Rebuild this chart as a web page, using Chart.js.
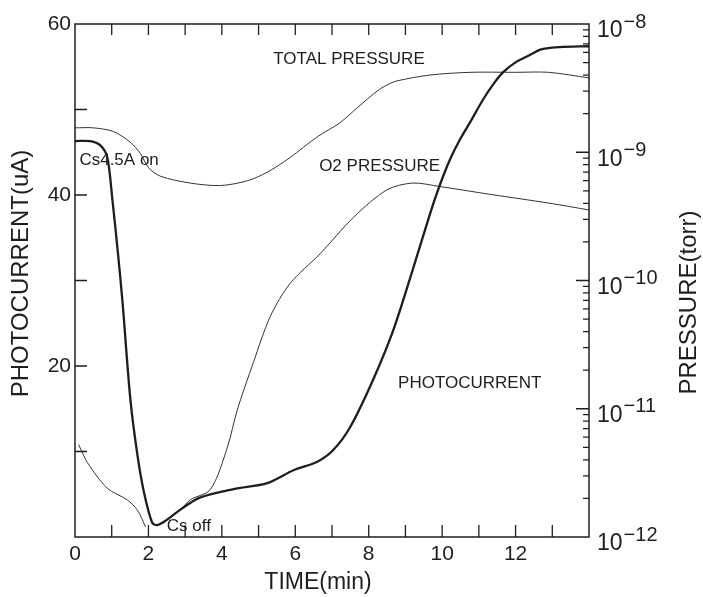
<!DOCTYPE html>
<html>
<head>
<meta charset="utf-8">
<script src="https://cdn.jsdelivr.net/npm/chart.js@4.4.1/dist/chart.umd.min.js"></script>
<style>
html,body{margin:0;padding:0;background:#fff;}
#wrap{width:703px;height:597px;position:relative;}
</style>
</head>
<body>
<div id="wrap"><canvas id="chart"></canvas></div>
<script>
// photocurrent (uA) - left axis
const photoTime = [0, 0.42, 0.69, 0.88, 1.02, 1.16, 1.29, 1.51, 1.7, 1.87, 2.1, 2.24, 2.5, 2.87, 3.4, 4.32, 5.24, 5.95, 6.6, 7.04, 7.5, 8.12, 8.67, 9.13, 9.67, 9.94, 10.22, 10.5, 10.76, 11.12, 11.4, 11.67, 12.03, 12.4, 12.67, 12.94, 13.2, 14];
const photoCurrent = [46.3, 46.3, 45.8, 44.4, 39.4, 33.6, 27.7, 16.0, 9.6, 5.4, 1.7, 1.4, 2.0, 3.2, 4.6, 5.6, 6.3, 7.8, 8.8, 10.2, 12.9, 18.4, 24.2, 30.3, 37.8, 41.2, 44.2, 46.6, 48.5, 51.2, 53.0, 54.4, 55.6, 56.4, 57.0, 57.2, 57.3, 57.4];

// total pressure (torr) - right log axis
const totalTime = [0, 0.5, 1.05, 1.5, 1.78, 2.0, 2.33, 3.14, 3.96, 4.7, 5.24, 5.86, 6.6, 7.22, 7.7, 8.23, 8.5, 8.77, 9.67, 10.76, 12.0, 12.9, 14];
const totalPressure = [1.55e-9, 1.55e-9, 1.45e-9, 1.2e-9, 9.8e-10, 7.6e-10, 6.5e-10, 5.75e-10, 5.5e-10, 6.0e-10, 7.0e-10, 9.1e-10, 1.32e-9, 1.7e-9, 2.24e-9, 3.0e-9, 3.35e-9, 3.6e-9, 4.0e-9, 4.2e-9, 4.2e-9, 4.2e-9, 3.8e-9];

// O2 pressure (torr) - right log axis, null where the trace breaks near "Cs off"
const o2Time = [0.1, 0.34, 0.88, 1.42, 1.7, 1.92, 2.4, 2.87, 3.14, 3.69, 4.15, 4.42, 4.86, 5.32, 5.86, 6.68, 7.58, 8.5, 9.2, 9.94, 11.3, 12.94, 14];
const o2Pressure = [5.25e-12, 3.8e-12, 2.4e-12, 1.95e-12, 1.62e-12, 1.2e-12, null, 1.62e-12, 1.95e-12, 2.35e-12, 5.0e-12, 9.8e-12, 2.3e-11, 5.25e-11, 9.5e-11, 1.62e-10, 3.1e-10, 5.1e-10, 5.75e-10, 5.4e-10, 4.7e-10, 4.0e-10, 3.55e-10];

const timeTicks = [0, 2, 4, 6, 8, 10, 12];
const currentTicks = [20, 40, 60];
const pressureExps = [-12, -11, -10, -9, -8];

const FONT = '"Liberation Sans", Arial, Helvetica, sans-serif';
const INK = '#1e1e1e';

function pts(xs, ys) {
    return xs.map((x, i) => ({x: x, y: ys[i]}));
}

// text notes placed in data units (time, uA)
const notes = [
    {text: "TOTAL PRESSURE", t: 5.4, v: 55.9},
    {text: "O2 PRESSURE", t: 6.65, v: 43.3},
    {text: "PHOTOCURRENT", t: 8.8, v: 18.0},
    {text: "Cs4.5A on", t: 0.12, v: 44.1},
    {text: "Cs off", t: 2.5, v: 1.2}
];

const decorations = {
    id: "decorations",
    afterDatasetsDraw(chart) {
        const {ctx, chartArea: a, scales} = chart;
        const x = scales.x, y = scales.y, p = scales.y2;
        ctx.save();

        // frame
        ctx.strokeStyle = INK;
        ctx.lineWidth = 1.5;
        ctx.strokeRect(a.left, a.top, a.right - a.left, a.bottom - a.top);

        // inward ticks
        ctx.lineWidth = 1.3;
        ctx.beginPath();
        for (let t = 1; t < 14; t++) {
            const px = x.getPixelForValue(t);
            ctx.moveTo(px, a.bottom); ctx.lineTo(px, a.bottom - 12);
            ctx.moveTo(px, a.top); ctx.lineTo(px, a.top + 11);
        }
        for (let v = 10; v < 60; v += 10) {
            const py = y.getPixelForValue(v);
            ctx.moveTo(a.left, py); ctx.lineTo(a.left + 12, py);
        }
        for (let e = -12; e < -8; e++) {
            for (let m = 1; m < 10; m++) {
                if (e === -12 && m === 1) continue;
                const py = p.getPixelForValue(m * Math.pow(10, e));
                ctx.moveTo(a.right, py); ctx.lineTo(a.right - (m === 1 ? 13 : 6), py);
            }
        }
        ctx.stroke();

        ctx.fillStyle = INK;

        // log labels 10^n on the right
        pressureExps.forEach(e => {
            const py = p.getPixelForValue(Math.pow(10, e));
            ctx.font = "23px " + FONT;
            ctx.textAlign = "left";
            ctx.textBaseline = "middle";
            const bx = a.right + 8;
            ctx.fillText("10", bx, py + 7);
            const w = ctx.measureText("10").width;
            ctx.font = "20px " + FONT;
            ctx.fillText("\u2212" + Math.abs(e), bx + w + 1, py - 2);
        });

        // notes
        ctx.font = "17px " + FONT;
        ctx.textAlign = "left";
        ctx.textBaseline = "middle";
        notes.forEach(n => {
            ctx.fillText(n.text, x.getPixelForValue(n.t), y.getPixelForValue(n.v));
        });

        // axis titles
        ctx.font = "23px " + FONT;
        ctx.textAlign = "center";
        ctx.fillText("TIME(min)", (a.left + a.right) / 2 - 14, a.bottom + 46);

        ctx.font = "24px " + FONT;
        ctx.save();
        ctx.translate(a.left - 54, (a.top + a.bottom) / 2 - 7);
        ctx.rotate(-Math.PI / 2);
        ctx.fillText("PHOTOCURRENT(uA)", 0, 0);
        ctx.restore();

        ctx.save();
        ctx.translate(a.right + 100, (a.top + a.bottom) / 2 + 22);
        ctx.rotate(-Math.PI / 2);
        ctx.fillText("PRESSURE(torr)", 0, 0);
        ctx.restore();

        ctx.restore();
    }
};

new Chart(document.getElementById("chart"), {

    type: "line",

    data: {
        datasets: [{
            label: "Photocurrent",
            data: pts(photoTime, photoCurrent),
            yAxisID: "y",
            borderColor: INK,
            borderWidth: 2.3,
            pointRadius: 0,
            tension: 0.3
        }, {
            label: "Total pressure",
            data: pts(totalTime, totalPressure),
            yAxisID: "y2",
            borderColor: "#333",
            borderWidth: 1,
            pointRadius: 0,
            tension: 0.3
        }, {
            label: "O2 pressure",
            data: pts(o2Time, o2Pressure),
            yAxisID: "y2",
            borderColor: "#333",
            borderWidth: 1,
            pointRadius: 0,
            spanGaps: false,
            tension: 0.3
        }]
    },

    options: {
        responsive: true,
        maintainAspectRatio: false,
        animation: false,
        devicePixelRatio: 1,
        layout: {padding: {top: 24}},
        plugins: {
            legend: {display: false},
            tooltip: {enabled: false}
        },
        scales: {
            x: {
                type: "linear",
                min: 0,
                max: 14,
                grid: {display: false, drawTicks: false},
                border: {display: false},
                ticks: {
                    stepSize: 2,
                    autoSkip: false,
                    maxRotation: 0,
                    padding: 5,
                    color: INK,
                    font: {family: FONT, size: 21},
                    callback: v => timeTicks.includes(v) ? String(v) : ""
                },
                afterFit: s => { s.height = 60; }
            },
            y: {
                position: "left",
                min: 0,
                max: 60,
                grid: {display: false, drawTicks: false},
                border: {display: false},
                ticks: {
                    stepSize: 20,
                    padding: 4,
                    color: INK,
                    font: {family: FONT, size: 21},
                    callback: v => currentTicks.includes(v) ? String(v) : ""
                },
                afterFit: s => { s.width = 75; }
            },
            y2: {
                type: "logarithmic",
                position: "right",
                min: 1e-12,
                max: 1e-8,
                grid: {display: false, drawTicks: false},
                border: {display: false},
                ticks: {display: false},
                afterFit: s => { s.width = 114; }
            }
        }
    },

    plugins: [decorations]

});
</script>
</body>
</html>
